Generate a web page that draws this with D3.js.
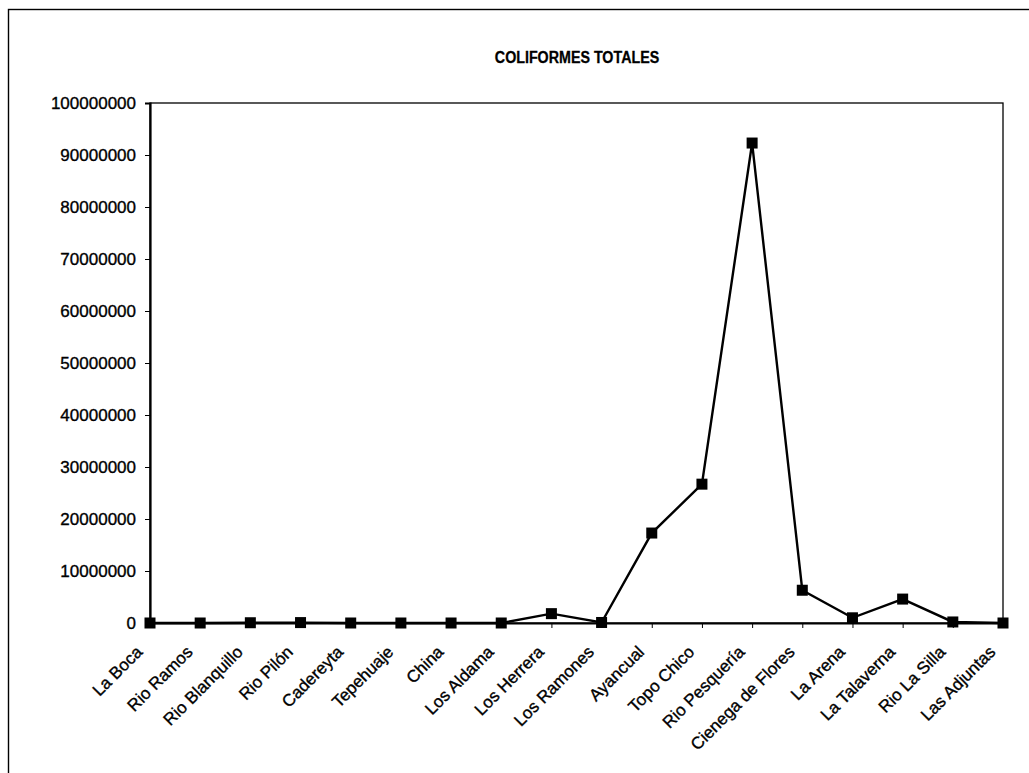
<!DOCTYPE html>
<html>
<head>
<meta charset="utf-8">
<script src="https://cdn.jsdelivr.net/npm/d3@7"></script>
<style>
  html, body { margin: 0; padding: 0; background: #fff; }
  svg { display: block; font-family: "Liberation Sans", Arial, sans-serif; }
</style>
</head>
<body>
<svg id="chart" width="1029" height="773"></svg>
<script>
// Sampling stations along the river system
const stations = [
  "La Boca", "Rio Ramos", "Rio Blanquillo", "Rio Pilón", "Cadereyta",
  "Tepehuaje", "China", "Los Aldama", "Los Herrera", "Los Ramones",
  "Ayancual", "Topo Chico", "Rio Pesquería", "Cienega de Flores",
  "La Arena", "La Talaverna", "Rio La Silla", "Las Adjuntas"
];

// Total coliforms per station
const coliformes = [
  0, 0, 50000, 80000, 0,
  0, 0, 0, 1800000, 100000,
  17300000, 26700000, 92300000, 6300000,
  1000000, 4600000, 200000, 0
];

const yTicks = [0, 10000000, 20000000, 30000000, 40000000, 50000000,
  60000000, 70000000, 80000000, 90000000, 100000000];

const titleText = "COLIFORMES TOTALES";

const svg = d3.select("#chart");
const plot = { left: 150, right: 1003, top: 103, bottom: 623 };
const font = "'Liberation Sans', Arial, sans-serif";

// Outer chart frame (runs past the right and bottom edges)
svg.append("rect")
  .attr("x", 8.5).attr("y", 9.5)
  .attr("width", 1100).attr("height", 800)
  .attr("fill", "none").attr("stroke", "#000").attr("stroke-width", 1.4);

// Title (narrow bold)
svg.append("text")
  .attr("transform", "translate(577,63) scale(0.84,1)")
  .attr("text-anchor", "middle")
  .attr("font-size", 17).attr("font-weight", "bold")
  .attr("font-family", font)
  .attr("stroke", "#000").attr("stroke-width", 0.3)
  .text(titleText);

const x = d3.scalePoint().domain(stations).range([plot.left, plot.right]);
const y = d3.scaleLinear().domain([0, 100000000]).range([plot.bottom, plot.top]);

// Plot area border
svg.append("rect")
  .attr("x", plot.left).attr("y", plot.top)
  .attr("width", plot.right - plot.left).attr("height", plot.bottom - plot.top)
  .attr("fill", "none").attr("stroke", "#000").attr("stroke-width", 1.3);

// Value axis
const yAxis = svg.append("g")
  .attr("transform", `translate(${plot.left},0)`)
  .call(d3.axisLeft(y).tickValues(yTicks).tickFormat(d3.format("d")).tickSize(5).tickPadding(9));
yAxis.select(".domain").attr("stroke-width", 2.2);
yAxis.selectAll("text")
  .attr("font-size", 17).attr("fill", "#000").attr("font-family", font)
  .attr("stroke", "#000").attr("stroke-width", 0.35);

// Category axis
const xAxis = svg.append("g")
  .attr("transform", `translate(0,${plot.bottom})`)
  .call(d3.axisBottom(x).tickSize(5).tickSizeOuter(0));
xAxis.select(".domain").attr("stroke-width", 2.2);
xAxis.selectAll("text")
  .attr("font-size", 17).attr("fill", "#000").attr("font-family", font)
  .attr("stroke", "#000").attr("stroke-width", 0.35)
  .attr("text-anchor", "end")
  .attr("dy", null)
  .attr("x", 0).attr("y", 0)
  .attr("transform", "translate(-7,30) rotate(-45)");

// Series line
const line = d3.line()
  .x((d, i) => x(stations[i]))
  .y(d => y(d));

svg.append("path")
  .datum(coliformes)
  .attr("fill", "none")
  .attr("stroke", "#000")
  .attr("stroke-width", 2.4)
  .attr("d", line);

// Square markers
const m = 11;
svg.append("g").selectAll("rect")
  .data(coliformes)
  .join("rect")
  .attr("x", (d, i) => x(stations[i]) - m / 2)
  .attr("y", d => y(d) - m / 2)
  .attr("width", m).attr("height", m)
  .attr("fill", "#000");
</script>
</body>
</html>
